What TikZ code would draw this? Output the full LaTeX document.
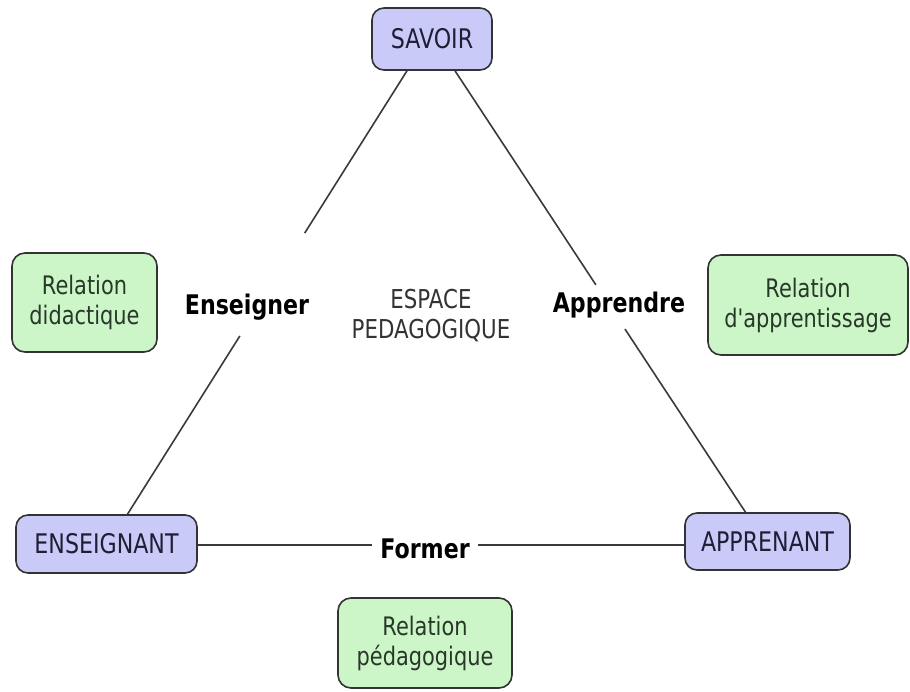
\documentclass[tikz,border=0pt]{standalone}
\usepackage{fontspec}
\setmainfont{DejaVu Sans}[FakeStretch=0.82, Ligatures=TeXOff]
\usetikzlibrary{calc}
\definecolor{boxblue}{HTML}{CACAF8}
\definecolor{boxgreen}{HTML}{CCF5C8}
\definecolor{edgegray}{HTML}{333333}
\definecolor{bluetxt}{HTML}{1E1E36}
\definecolor{greentxt}{HTML}{283828}
\definecolor{linegray}{HTML}{3A3A3A}
\tikzset{
  pole/.style={draw=edgegray, line width=1.6pt, fill=boxblue, rounded corners=12pt,
    text=bluetxt, font=\fontsize{27}{30}\selectfont, align=center, inner sep=0pt},
  relbox/.style={draw=edgegray, line width=1.6pt, fill=boxgreen, rounded corners=13pt,
    text=greentxt, font=\fontsize{25.5}{30}\selectfont, align=center, inner sep=0pt},
  verb/.style={font=\fontsize{27}{30}\selectfont\bfseries, text=black, inner sep=0pt},
  link/.style={draw=linegray, line width=1.6pt},
}
\begin{document}
\begin{tikzpicture}[x=1pt,y=-1pt]
\useasboundingbox[fill=white] (0,0) rectangle (910,692);
% poles
\node[pole, minimum width=120pt, minimum height=62pt] (sav) at (432,39) {SAVOIR};
\node[pole, minimum width=181pt, minimum height=58pt] (ens) at (106.5,544) {ENSEIGNANT};
\node[pole, minimum width=165pt, minimum height=57pt] (app) at (767.5,541.5) {APPRENANT};
% relations
\node[relbox, minimum width=145pt, minimum height=99pt] (rd) at (84.5,302.5) {Relation\\didactique};
\node[relbox, minimum width=200pt, minimum height=100pt] (ra) at (808,305) {Relation\\d'apprentissage};
\node[relbox, minimum width=174pt, minimum height=90pt] (rp) at (425,643) {Relation\\pédagogique};
% centre
\node[font=\fontsize{26}{30}\selectfont, text=edgegray, align=center] (esp) at (431,316) {ESPACE\\PEDAGOGIQUE};
% verbs
\node[verb] (ensg) at (247,307) {Enseigner};
\node[verb] (appr) at (619,305) {Apprendre};
\node[verb] (form) at (425,549) {Former};
% connectors
\path ([xshift=-25pt]sav.south) -- ([xshift=21pt]ens.north)
  coordinate[pos=0.366] (l1) coordinate[pos=0.598] (l2);
\draw[link] ([xshift=-25pt]sav.south) -- (l1);
\draw[link] (l2) -- ([xshift=21pt]ens.north);
\path ([xshift=23pt]sav.south) -- ([xshift=-22pt]app.north)
  coordinate[pos=0.485] (r1) coordinate[pos=0.585] (r2);
\draw[link] ([xshift=23pt]sav.south) -- (r1);
\draw[link] (r2) -- ([xshift=-22pt]app.north);
\draw[link] (ens.east |- 0,545) -- ([xshift=-8pt]form.west |- 0,545);
\draw[link] ([xshift=8pt]form.east |- 0,545) -- (app.west |- 0,545);
\end{tikzpicture}
\end{document}
